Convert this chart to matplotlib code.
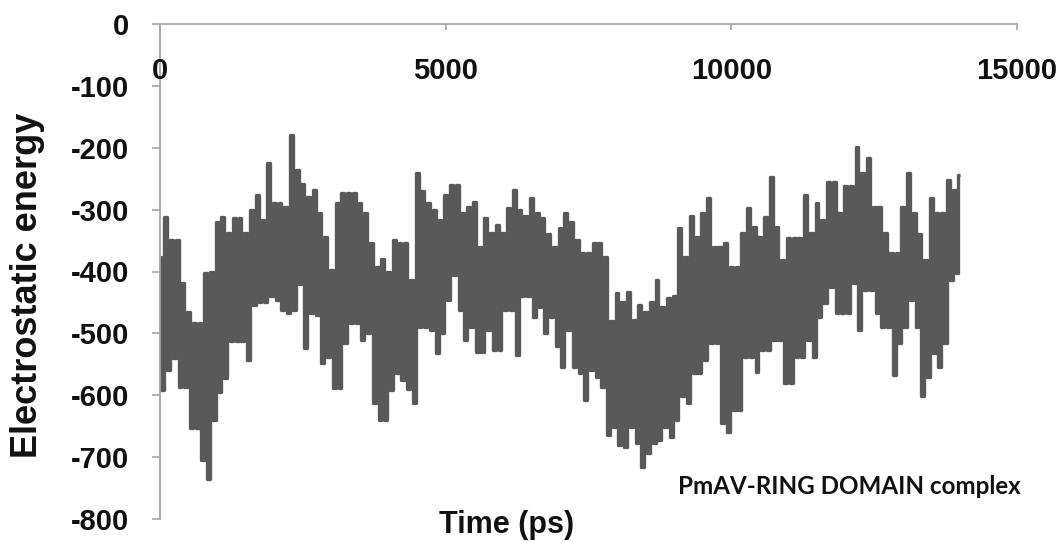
import numpy as np
import matplotlib
matplotlib.use("Agg")
import matplotlib.pyplot as plt

plt.rcParams["axes.unicode_minus"] = False

# Trajectory sampled every 100 ps; each sample holds the local high and low
# of the electrostatic energy, drawn as a dense oscillating trace.
sample_start_ps = 0
sample_step_ps = 100

energy_high = [
    -376, -312, -349, -349, -418, -465, -483, -483, -402, -400,
    -320, -312, -338, -314, -314, -338, -300, -276, -317, -225,
    -290, -290, -295, -179, -236, -258, -279, -268, -306, -344,
    -397, -290, -273, -273, -273, -290, -306, -354, -392, -379,
    -400, -349, -354, -354, -413, -241, -270, -290, -300, -317,
    -276, -260, -260, -306, -295, -287, -360, -314, -338, -325,
    -338, -298, -268, -300, -311, -281, -306, -314, -340, -360,
    -330, -306, -320, -349, -370, -370, -354, -354, -376, -480,
    -435, -450, -433, -478, -454, -465, -449, -414, -457, -443,
    -440, -330, -376, -310, -344, -306, -282, -360, -360, -354,
    -392, -392, -338, -298, -328, -344, -312, -247, -328, -381,
    -346, -346, -346, -276, -338, -290, -317, -255, -255, -306,
    -262, -262, -198, -241, -217, -295, -295, -338, -370, -370,
    -295, -241, -306, -340, -381, -282, -306, -306, -252, -268,
    -244,
]

energy_low = [
    -591, -559, -540, -586, -586, -653, -653, -704, -735, -640,
    -594, -572, -513, -513, -513, -543, -454, -449, -449, -440,
    -446, -462, -467, -462, -420, -523, -467, -470, -548, -538,
    -588, -588, -515, -483, -483, -510, -499, -612, -640, -640,
    -591, -564, -575, -590, -612, -489, -489, -494, -532, -500,
    -446, -405, -462, -511, -489, -530, -530, -494, -527, -527,
    -462, -462, -535, -440, -440, -473, -457, -499, -473, -521,
    -554, -494, -554, -564, -607, -559, -570, -586, -664, -651,
    -680, -683, -651, -677, -716, -694, -677, -672, -651, -667,
    -640, -602, -612, -564, -564, -543, -515, -515, -645, -659,
    -624, -624, -538, -538, -562, -527, -527, -511, -511, -580,
    -580, -538, -538, -511, -538, -473, -451, -425, -467, -467,
    -467, -418, -494, -430, -430, -467, -489, -489, -567, -515,
    -489, -446, -489, -602, -570, -532, -554, -515, -414, -403,
    -390,
]

x_ticks = [0, 5000, 10000, 15000]
x_tick_labels = ["0", "5000", "10000", "15000"]
y_ticks = [0, -100, -200, -300, -400, -500, -600, -700, -800]
y_tick_labels = ["0", "-100", "-200", "-300", "-400", "-500", "-600", "-700", "-800"]

# Interleave highs and lows into one time series
n = len(energy_high)
time_ps = []
energy = []
for i in range(n):
    t = sample_start_ps + i * sample_step_ps
    time_ps.extend([t, t + sample_step_ps / 2])
    energy.extend([energy_high[i], energy_low[i]])
time_ps = np.array(time_ps[:-1])
energy = np.array(energy[:-1])

W, H = 1064, 542
fig = plt.figure(figsize=(W / 100, H / 100), dpi=100)
ax = fig.add_axes([160 / W, 1 - 519 / H, (1017 - 160) / W, (519 - 24) / H])

ax.plot(time_ps, energy, color="#595959", lw=2.4, drawstyle="steps-mid",
        solid_joinstyle="round", solid_capstyle="butt")

ax.set_xlim(0, 15000)
ax.set_ylim(-800, 0)

for side in ("right", "bottom"):
    ax.spines[side].set_visible(False)
for side in ("top", "left"):
    ax.spines[side].set_color("#a6a6a6")
    ax.spines[side].set_linewidth(1.3)

font = "Liberation Sans"

# x axis sits along the zero line at the top, labels hang below it
ax.xaxis.tick_top()
ax.set_xticks(x_ticks)
ax.set_xticklabels([])
ax.tick_params(axis="x", direction="in", length=4, width=1.2, color="#a6a6a6")
xtrans = ax.get_xaxis_transform()
for xv, lab in zip(x_ticks, x_tick_labels):
    ax.text(xv, 1 - 47 / 495, lab, transform=xtrans, ha="center", va="center",
            fontsize=21, fontweight="bold", family=font, color="#111111")

ax.set_yticks(y_ticks)
ax.set_yticklabels(y_tick_labels, fontsize=21, fontweight="bold",
                   family=font, color="#111111")
ax.tick_params(axis="y", direction="out", length=5.5, width=1.2,
               color="#a6a6a6", pad=17)

fig.text(28 / W, 1 - 285 / H, "Electrostatic energy", rotation=90,
         ha="center", va="center", fontsize=26, fontweight="bold",
         family=font, color="#111111")
fig.text(507 / W, 1 - 525 / H, "Time (ps)", ha="center", va="center",
         fontsize=22, fontweight="bold", family=font, color="#111111")
fig.text(678 / W, 1 - 487 / H, "PmAV-RING DOMAIN complex", ha="left",
         va="center", fontsize=17.4, fontweight="bold", family="Lato",
         color="#111111")

fig.savefig("out.png", dpi=100)
